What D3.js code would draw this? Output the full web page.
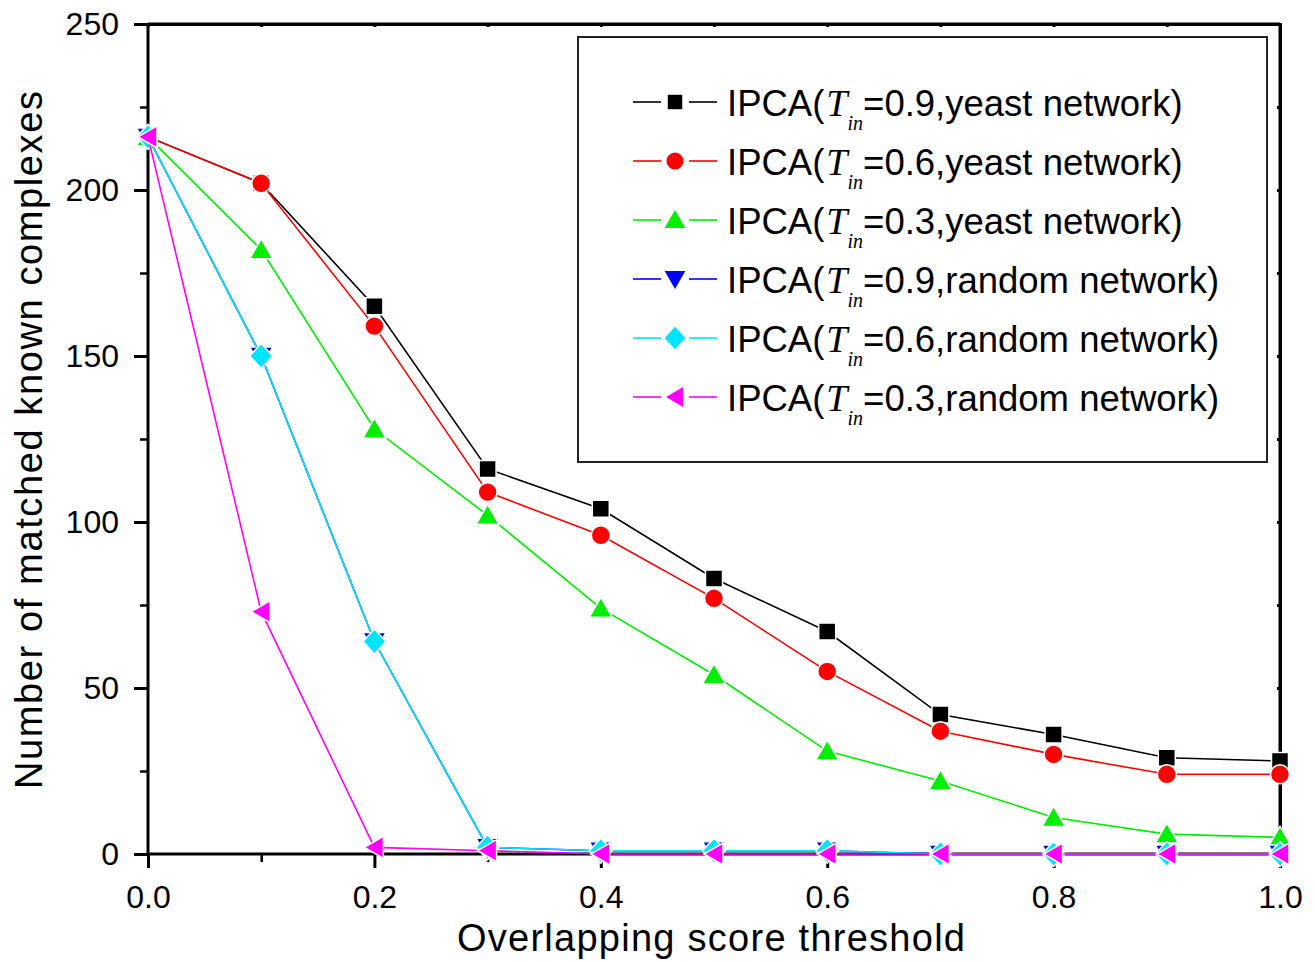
<!DOCTYPE html>
<html>
<head>
<meta charset="utf-8">
<script src="https://cdn.jsdelivr.net/npm/d3@7"></script>
<style>
  body { margin: 0; background: #fff; }
  text { font-family: "Liberation Sans", Arial, sans-serif; }
</style>
</head>
<body>
<svg id="chart"></svg>
<script>
// threshold values on the x axis
var thresholds = [0.0, 0.1, 0.2, 0.3, 0.4, 0.5, 0.6, 0.7, 0.8, 0.9, 1.0];

// number of matched known complexes for each series
var yeast09  = [216, 202, 165, 116, 104, 83, 67, 42, 36, 29, 28];
var yeast06  = [216, 202, 159, 109, 96, 77, 55, 37, 30, 24, 24];
var yeast03  = [216, 182, 128, 102, 74, 54, 31, 22, 11, 6, 5];
var random09 = [216, 150, 64, 2, 1, 1, 1, 0, 0, 0, 0];
var random06 = [216, 150, 64, 2, 1, 1, 1, 0, 0, 0, 0];
var random03 = [216, 73, 2, 1, 0, 0, 0, 0, 0, 0, 0];

var tinValues   = ["0.9", "0.6", "0.3", "0.9", "0.6", "0.3"];
var networks    = ["yeast", "yeast", "yeast", "random", "random", "random"];
var xTickLabels = ["0.0", "0.2", "0.4", "0.6", "0.8", "1.0"];
var yTickLabels = ["0", "50", "100", "150", "200", "250"];

var seriesList = [
  {values: yeast09,  color: "#000000", shape: "square"},
  {values: yeast06,  color: "#ff0000", shape: "circle"},
  {values: yeast03,  color: "#00ee00", shape: "triUp"},
  {values: random09, color: "#0000ff", shape: "triDown"},
  {values: random06, color: "#00e5ff", shape: "diamond"},
  {values: random03, color: "#ff00ff", shape: "triLeft"}
];

var width = 1315, height = 962;
var plot = {left: 148, right: 1280, top: 24, bottom: 854};

var svg = d3.select("#chart").attr("width", width).attr("height", height);

var x = d3.scaleLinear().domain([0, 1]).range([plot.left, plot.right]);
var y = d3.scaleLinear().domain([0, 250]).range([plot.bottom, plot.top]);

// marker outlines, k scales the marker (1 = plot size)
var markerPath = function(shape, k) {
  var p;
  if (shape == "square") { var h = 8.5 * k; return "M" + (-h) + "," + (-h) + "H" + h + "V" + h + "H" + (-h) + "Z"; }
  if (shape == "circle") return d3.symbol(d3.symbolCircle, Math.PI * 90 * k * k)();
  if (shape == "triUp")   p = [[0, -11], [11.5, 9], [-11.5, 9]];
  if (shape == "triDown") p = [[0, 11], [11.5, -9], [-11.5, -9]];
  if (shape == "diamond") p = [[0, -12.5], [11.5, 0], [0, 12.5], [-11.5, 0]];
  if (shape == "triLeft") p = [[-10, 0], [9, -11], [9, 11]];
  return "M" + p.map(function(q){ return (q[0] * k) + "," + (q[1] * k); }).join("L") + "Z";
};

// frame: top and right lines
svg.append("line").attr("x1", plot.left).attr("x2", plot.right).attr("y1", plot.top).attr("y2", plot.top)
   .attr("stroke", "#000").attr("stroke-width", 3);
svg.append("line").attr("x1", plot.right).attr("x2", plot.right).attr("y1", plot.top).attr("y2", plot.bottom)
   .attr("stroke", "#000").attr("stroke-width", 3);

// bottom axis
var xAxis = d3.axisBottom(x).tickValues(d3.range(0, 6).map(function(i){ return i * 0.2; }))
              .tickFormat(function(d, i){ return xTickLabels[i]; }).tickSize(14).tickPadding(17);
var gx = svg.append("g").attr("transform", "translate(0," + plot.bottom + ")").call(xAxis);
var xMinor = d3.axisBottom(x).tickValues(d3.range(0, 5).map(function(i){ return 0.1 + i * 0.2; }))
               .tickFormat("").tickSize(8);
var gxm = svg.append("g").attr("transform", "translate(0," + plot.bottom + ")").call(xMinor);

// left axis
var yAxis = d3.axisLeft(y).tickValues(d3.range(0, 6).map(function(i){ return i * 50; }))
              .tickFormat(function(d, i){ return yTickLabels[i]; }).tickSize(14).tickPadding(15);
var gy = svg.append("g").attr("transform", "translate(" + plot.left + ",0)").call(yAxis);
var yMinor = d3.axisLeft(y).tickValues(d3.range(0, 5).map(function(i){ return 25 + i * 50; }))
               .tickFormat("").tickSize(8);
var gym = svg.append("g").attr("transform", "translate(" + plot.left + ",0)").call(yMinor);

// small inward ticks on top and right
var xTop = d3.axisBottom(x).tickValues(d3.range(0, 11).map(function(i){ return i * 0.1; })).tickFormat("").tickSize(3);
svg.append("g").attr("transform", "translate(0," + plot.top + ")").call(xTop);
var yRight = d3.axisLeft(y).tickValues(d3.range(0, 11).map(function(i){ return i * 25; })).tickFormat("").tickSize(3);
svg.append("g").attr("transform", "translate(" + plot.right + ",0)").call(yRight);

svg.selectAll(".domain").attr("stroke-width", 3);
svg.selectAll(".tick line").attr("stroke-width", 3);
gxm.selectAll(".tick line").attr("stroke-width", 2.5);
gym.selectAll(".tick line").attr("stroke-width", 2.5);
gxm.select(".domain").remove();
gym.select(".domain").remove();
gy.select(".domain").attr("d", "M0," + plot.bottom + "V" + plot.top);
gx.select(".domain").attr("d", "M" + plot.left + ",0H" + plot.right);
svg.selectAll(".tick text").style("font-size", "32px").attr("fill", "#000")
   .style("font-family", "'Liberation Sans', Arial, sans-serif");
gx.selectAll(".tick text").attr("dy", "0.71em");

// axis titles
svg.append("text").attr("x", 711).attr("y", 951).attr("text-anchor", "middle")
   .style("font-size", "38px").attr("textLength", 508).text("Overlapping score threshold");
svg.append("text").attr("transform", "translate(42,440) rotate(-90)").attr("text-anchor", "middle")
   .style("font-size", "38px").attr("textLength", 698).text("Number of matched known complexes");

// series
var line = d3.line().x(function(d, i){ return x(thresholds[i]); }).y(function(d){ return y(d); });

seriesList.forEach(function(s){
  var g = svg.append("g");
  g.append("path").datum(s.values).attr("d", line)
   .attr("fill", "none").attr("stroke", s.color).attr("stroke-width", 1.6);
  g.selectAll("path.mk").data(s.values).enter().append("path").classed("mk", true)
   .attr("d", markerPath(s.shape, 1))
   .attr("transform", function(d, i){ return "translate(" + x(thresholds[i]) + "," + y(d) + ")"; })
   .attr("fill", s.color).attr("stroke", "#fff").attr("stroke-width", 1.5);
});

// legend
var legend = svg.append("g");
legend.append("rect").attr("x", 578).attr("y", 37).attr("width", 689).attr("height", 425)
  .attr("fill", "#fff").attr("stroke", "#222").attr("stroke-width", 2);

seriesList.forEach(function(s, i){
  var base = 116 + i * 59;
  var cy = base - 14;
  legend.append("line").attr("x1", 633).attr("x2", 661).attr("y1", cy).attr("y2", cy)
    .attr("stroke", s.color).attr("stroke-width", 1.6);
  legend.append("line").attr("x1", 689).attr("x2", 717).attr("y1", cy).attr("y2", cy)
    .attr("stroke", s.color).attr("stroke-width", 1.6);
  legend.append("path").attr("d", markerPath(s.shape, s.shape == "square" ? 0.85 : 0.9))
    .attr("transform", "translate(675," + cy + ")").attr("fill", s.color);

  var t = legend.append("text").attr("x", 727).attr("y", base).style("font-size", "36.5px");
  t.append("tspan").text("IPCA(");
  t.append("tspan").style("font-family", "'Liberation Serif', 'Times New Roman', serif")
    .style("font-style", "italic").style("font-size", "38px").attr("dx", 2).text("T");
  t.append("tspan").style("font-family", "'Liberation Serif', 'Times New Roman', serif")
    .style("font-style", "italic").style("font-size", "20px").attr("dx", 0).attr("dy", 14).text("in");
  t.append("tspan").attr("dy", -14).attr("dx", 0).text("=" + tinValues[i] + "," + networks[i] + " network)");
});
</script>
</body>
</html>
